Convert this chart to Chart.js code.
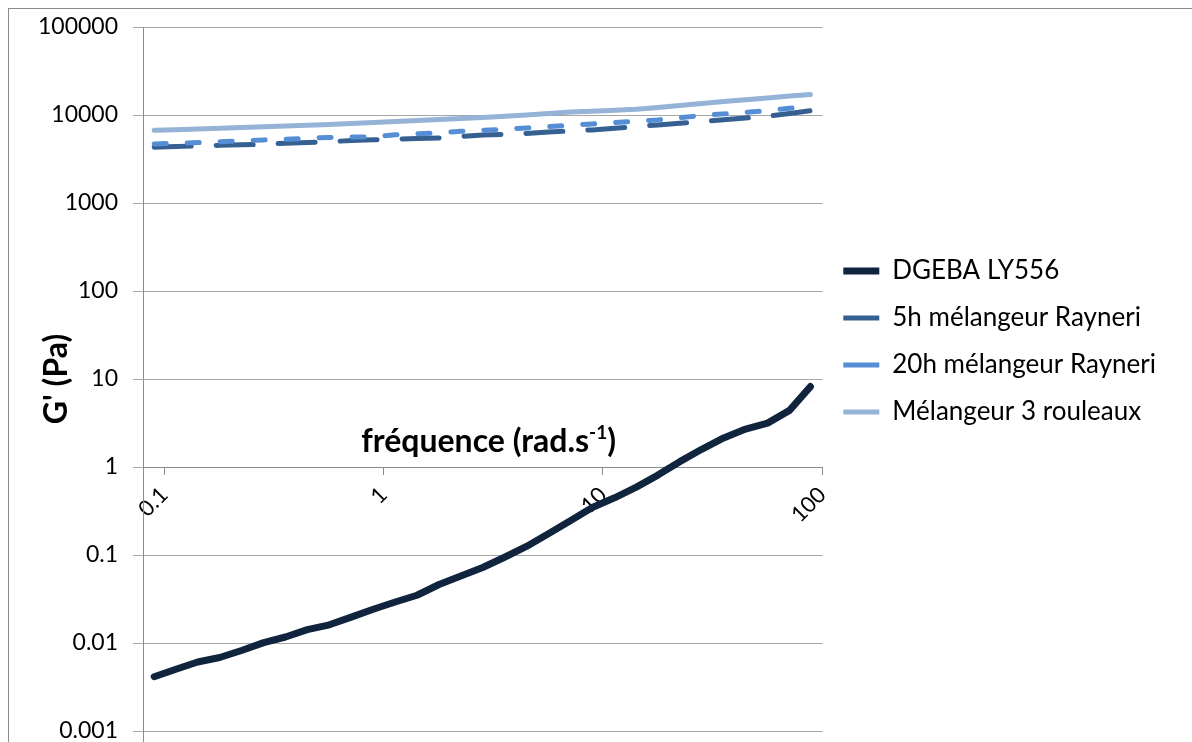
<!DOCTYPE html>
<html>
<head>
<meta charset="utf-8">
<script src="https://cdn.jsdelivr.net/npm/chart.js@4.4.1/dist/chart.umd.min.js"></script>
<style>
html,body{margin:0;padding:0;background:#fff;}
canvas{display:block;}
</style>
</head>
<body>
<canvas id="c" width="1192" height="742"></canvas>
<script>
// ---- data ----
const frequencies = [0.09, 0.113, 0.142, 0.179, 0.225, 0.284, 0.357, 0.449, 0.566, 0.712, 0.897,
  1.13, 1.42, 1.79, 2.25, 2.83, 3.56, 4.48, 5.64, 7.10, 8.94,
  11.3, 14.2, 17.8, 22.4, 28.2, 35.5, 44.7, 56.3, 70.9, 88.3];
const seriesNames = ["DGEBA LY556", "5h mélangeur Rayneri", "20h mélangeur Rayneri", "Mélangeur 3 rouleaux"];
const dgeba = [0.00414, 0.00504, 0.00608, 0.00684, 0.00822, 0.0101, 0.0117, 0.0142, 0.0161, 0.0197, 0.0242,
  0.0292, 0.0349, 0.0462, 0.0577, 0.0721, 0.0942, 0.125, 0.174, 0.245, 0.347,
  0.447, 0.591, 0.809, 1.15, 1.59, 2.14, 2.70, 3.15, 4.4, 8.2];
const rayneri5h = [4300, 4380, 4450, 4520, 4590, 4660, 4780, 4870, 4980, 5120, 5230,
  5310, 5400, 5490, 5710, 5930, 6040, 6180, 6390, 6600, 6770,
  7080, 7400, 7720, 8050, 8390, 8840, 9270, 9660, 10400, 11200];
const rayneri20h = [4680, 4770, 4870, 4950, 5080, 5210, 5300, 5440, 5560, 5620, 5650,
  5970, 6100, 6260, 6530, 6690, 6880, 7120, 7380, 7680, 7900,
  8200, 8510, 8800, 9310, 9860, 10300, 10700, 11200, 11900, 12700];
const rouleaux3 = [6700, 6820, 6950, 7080, 7210, 7340, 7500, 7640, 7820, 8030, 8220,
  8440, 8660, 8870, 9100, 9340, 9660, 10000, 10400, 10800, 11000,
  11300, 11600, 12200, 12800, 13500, 14200, 14900, 15600, 16400, 17100];
const yTickValues = [0.001, 0.01, 0.1, 1, 10, 100, 1000, 10000, 100000];
const yTickLabels = ["0.001", "0.01", "0.1", "1", "10", "100", "1000", "10000", "100000"];
const xTickValues = [0.1, 1, 10, 100];
const xTickLabels = ["0.1", "1", "10", "100"];
const yTitle = "G' (Pa)";
const xTitleMain = "fréquence (rad.s";
const xTitleSup = "-1";
const xTitleEnd = ")";

// ---- build ----
const FONT = "Lato, 'Open Sans', sans-serif";
const toPts = arr => frequencies.map((f, i) => ({x: f, y: arr[i]}));

// let the right-hand legend be as wide as its text needs
const widenLegend = {
  id: 'widenLegend',
  beforeLayout(chart) {
    const lg = chart.legend;
    if (lg && !lg.__wide) {
      const orig = lg.update;
      lg.update = function (maxWidth, maxHeight, margins) {
        return orig.call(this, Math.max(maxWidth, 460), maxHeight, margins);
      };
      lg.__wide = true;
    }
  }
};

const frame = {
  id: 'frame',
  beforeDraw(chart) {
    const ctx = chart.ctx;
    ctx.save();
    ctx.fillStyle = '#fff';
    ctx.fillRect(0, 0, chart.width, chart.height);
    ctx.strokeStyle = '#8c8c8c';
    ctx.lineWidth = 1;
    ctx.strokeRect(8.5, 8.5, 1300, 900);
    ctx.restore();
  },
  afterDraw(chart) {
    const ctx = chart.ctx;
    const a = chart.chartArea;
    ctx.save();
    ctx.strokeStyle = '#8c8c8c';
    ctx.lineWidth = 1;
    ctx.beginPath();
    ctx.moveTo(Math.round(a.left) + 0.5, a.bottom);
    ctx.lineTo(Math.round(a.left) + 0.5, chart.height);
    ctx.stroke();
    // x-axis title with superscript, above the axis line
    const yAxis = chart.scales.y;
    const base = yAxis.getPixelForValue(1) - 15;
    const big = "bold 32px " + FONT;
    const small = "bold 19px " + FONT;
    ctx.fillStyle = '#000';
    ctx.textBaseline = 'alphabetic';
    ctx.textAlign = 'left';
    ctx.font = big;
    const w1 = ctx.measureText(xTitleMain).width;
    const w3 = ctx.measureText(xTitleEnd).width;
    ctx.font = small;
    const w2 = ctx.measureText(xTitleSup).width;
    const total = w1 + w2 + w3;
    const cx = (a.left + a.right) / 2 + 6;
    let x = cx - total / 2;
    ctx.font = big;
    ctx.fillText(xTitleMain, x, base);
    x += w1;
    ctx.font = small;
    ctx.fillText(xTitleSup, x, base - 13);
    x += w2;
    ctx.font = big;
    ctx.fillText(xTitleEnd, x, base);
    ctx.restore();
  }
};

new Chart(document.getElementById('c'), {
  type: 'line',
  data: {
    datasets: [
      {label: seriesNames[0], data: toPts(dgeba), borderColor: '#10243E', backgroundColor: '#10243E',
       borderWidth: 7, borderCapStyle: 'round', borderJoinStyle: 'round', order: 4},
      {label: seriesNames[1], data: toPts(rayneri5h), borderColor: '#376092', backgroundColor: '#376092',
       borderWidth: 5, borderDash: [37, 25], borderCapStyle: 'round', borderJoinStyle: 'round', order: 3},
      {label: seriesNames[2], data: toPts(rayneri20h), borderColor: '#558ED5', backgroundColor: '#558ED5',
       borderWidth: 5, borderDash: [12, 21], borderCapStyle: 'round', borderJoinStyle: 'round', order: 2},
      {label: seriesNames[3], data: toPts(rouleaux3), borderColor: '#95B3D7', backgroundColor: '#95B3D7',
       borderWidth: 5, borderCapStyle: 'round', borderJoinStyle: 'round', order: 1}
    ]
  },
  options: {
    responsive: false,
    animation: false,
    devicePixelRatio: 1,
    elements: {point: {radius: 0, hoverRadius: 0}, line: {tension: 0}},
    layout: {padding: {left: 10, top: 27, right: 26, bottom: 11}},
    plugins: {
      tooltip: {enabled: false},
      legend: {
        position: 'right',
        align: 'start',
        title: {display: true, text: ' ', font: {size: 10}, padding: {top: 198, bottom: 0}},
        labels: {
          usePointStyle: true,
          pointStyle: 'line',
          pointStyleWidth: 36,
          boxWidth: 36,
          padding: 21,
          color: '#000',
          font: {family: FONT, size: 26},
          sort: (a, b) => a.datasetIndex - b.datasetIndex
        }
      }
    },
    scales: {
      x: {
        type: 'logarithmic',
        min: 0.08,
        max: 100,
        position: {y: 1},
        afterBuildTicks: s => { s.ticks = xTickValues.map(v => ({value: v})); },
        ticks: {
          callback: (v, i) => xTickLabels[i],
          autoSkip: false,
          minRotation: 45,
          maxRotation: 45,
          padding: 8,
          color: '#000',
          font: {family: FONT, size: 22}
        },
        grid: {display: true, drawOnChartArea: false, drawTicks: true, tickLength: 7, color: '#8c8c8c'},
        border: {display: true, color: '#8c8c8c', width: 1}
      },
      y: {
        type: 'logarithmic',
        min: 0.001,
        max: 100000,
        afterBuildTicks: s => { s.ticks = yTickValues.map(v => ({value: v})); },
        afterFit: s => { s.width = 133; s.paddingTop = 0; s.paddingBottom = 0; },
        ticks: {
          callback: (v, i) => yTickLabels[i],
          autoSkip: false,
          padding: 15,
          color: '#000',
          font: {family: FONT, size: 23}
        },
        grid: {color: '#a6a6a6', tickLength: 10, drawTicks: true},
        border: {display: true, color: '#8c8c8c', width: 1},
        title: {display: true, text: yTitle, color: '#000',
                font: {family: FONT, size: 32, weight: 'bold'}, padding: {top: 27, bottom: 27}}
      }
    }
  },
  plugins: [widenLegend, frame]
});
</script>
</body>
</html>
